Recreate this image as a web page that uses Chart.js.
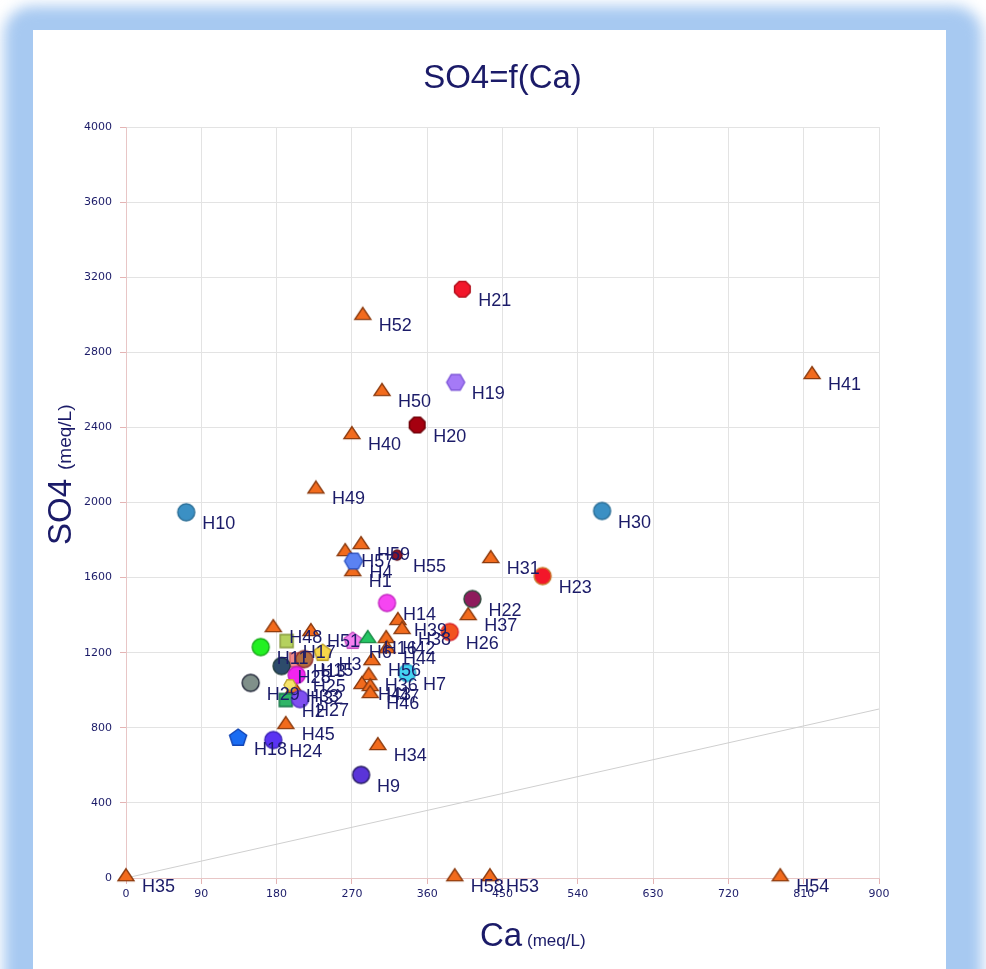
<!DOCTYPE html>
<html>
<head>
<meta charset="utf-8">
<title>SO4=f(Ca)</title>
<script src="https://cdn.jsdelivr.net/npm/chart.js@4.4.1/dist/chart.umd.min.js"></script>
<style>
  html, body { margin: 0; padding: 0; background: #fff; overflow: hidden; }
  #glow { position: absolute; left: 4px; top: 6px; width: 978px; height: 1010px; background: #a7c9f1; border-radius: 28px; filter: blur(7px); }
  #panel { position: absolute; left: 33px; top: 30px; width: 913px; height: 990px; background: #fff; }
  #chart { position: absolute; left: 0; top: 0; }
</style>
</head>
<body>
<div id="glow"></div>
<div id="panel"></div>
<canvas id="chart" width="986" height="969"></canvas>
<script>
// sample ids, Ca and SO4 (meq/L)
const names = ['H35', 'H58', 'H53', 'H54', 'H41', 'H52', 'H50', 'H40', 'H49', 'H59',
  'H57', 'H1', 'H31', 'H37', 'H39', 'H38', 'H48', 'H51', 'H42', 'H44',
  'H56', 'H36', 'H43', 'H47', 'H46', 'H32', 'H45', 'H34',
  'H21', 'H19', 'H20', 'H10', 'H30', 'H23', 'H22', 'H26', 'H14', 'H4',
  'H55', 'H6', 'H16', 'H17', 'H11', 'H3', 'H13', 'H15', 'H28', 'H25',
  'H29', 'H33', 'H2', 'H27', 'H18', 'H24', 'H9', 'H7'];
const ca = [0, 393, 435, 782, 820, 283, 306, 270, 227, 281,
  262, 271, 436, 409, 325, 330, 176, 221, 311, 312,
  294, 290, 282, 292, 292, 201, 191, 301,
  402, 394, 348, 72, 569, 498, 414, 387, 312, 272,
  324, 271, 289, 192, 161, 235, 204, 213, 186, 204,
  149, 196, 191, 208, 134, 176, 281, 336];
const so4 = [15, 15, 15, 15, 2690, 3005, 2600, 2370, 2080, 1784,
  1747, 1640, 1710, 1406, 1380, 1332, 1342, 1321, 1284, 1230,
  1166, 1087, 1039, 1028, 991, 1017, 826, 714,
  3136, 2640, 2413, 1948, 1955, 1608, 1486, 1310, 1465, 1688,
  1720, 1262, 1284, 1262, 1230, 1198, 1161, 1166, 1129, 1081,
  1039, 1028, 948, 953, 746, 735, 549, 1092];

// y = x reference line
const refCa = [0, 900];
const refSo4 = [0, 900];

// axis ticks
const xTicks = [0, 90, 180, 270, 360, 450, 540, 630, 720, 810, 900];
const yTicks = [0, 400, 800, 1200, 1600, 2000, 2400, 2800, 3200, 3600, 4000];

// marker look per sample: [shape, fill, stroke, size]
const TRI = ['tri', '#f26b1d', '#8b3a0e', 8];
const looks = [TRI, TRI, TRI, TRI, TRI, TRI, TRI, TRI, TRI, TRI,
  TRI, TRI, TRI, TRI, TRI, TRI, TRI, TRI, TRI, TRI,
  TRI, TRI, TRI, TRI, TRI, TRI, TRI, TRI,
  ['oct', '#f2172b', '#b0101c', 8.5],
  ['hex', '#a57af7', '#7d55d8', 9],
  ['oct', '#a5000f', '#6a0008', 8.5],
  ['circle', '#3b90c4', '#2b6e96', 8.5],
  ['circle', '#3b90c4', '#2b6e96', 8.5],
  ['circle', '#f3172a', '#c7782a', 8.5],
  ['circle', '#8e1b5c', '#2f4a3c', 8.5],
  ['circle', '#f2531f', '#d6232a', 8.5],
  ['circle', '#f645f2', '#c227c0', 8.5],
  ['hex', '#5b82f2', '#2f55c4', 9],
  ['circle', '#8a1428', '#5a0a18', 5],
  ['pent', '#f57ff0', '#c552c2', 9],
  ['tri', '#25c463', '#168a44', 8],
  ['square', '#b5d15e', '#889a3c', 6.5],
  ['circle', '#22f022', '#18a818', 8.5],
  ['pent', '#f6d64a', '#b89a26', 9],
  ['square', '#f28a8a', '#c86060', 7],
  ['circle', '#b36e40', '#8c2a2a', 8.5],
  ['circle', '#2d4b6b', '#1e3a3a', 8.5],
  ['circle', '#f224f0', '#c018c0', 8.5],
  ['circle', '#80908a', '#23283a', 8.5],
  ['hex', '#f6e36a', '#c0a83a', 6],
  ['square', '#2fb566', '#147346', 6.5],
  ['circle', '#7f4ff0', '#5230c4', 8.5],
  ['pent', '#1a6cf2', '#1245b4', 9],
  ['circle', '#5a34f2', '#3a22b4', 8.5],
  ['circle', '#5a34d8', '#24195e', 8.5],
  ['circle', '#45d3f2', '#1fa0c4', 8.5]];

const navy = '#1b1b68';
const sans = '"Liberation Sans", Arial, sans-serif';

// small canvas used as a point style
function marker([shape, fill, stroke, r]) {
  const size = Math.ceil(r * 2 + 4);
  const cv = document.createElement('canvas');
  cv.width = cv.height = size;
  const g = cv.getContext('2d');
  const c = size / 2;
  g.beginPath();
  if (shape === 'circle') {
    g.arc(c, c, r, 0, Math.PI * 2);
  } else if (shape === 'square') {
    g.rect(c - r, c - r, r * 2, r * 2);
  } else if (shape === 'tri') {
    g.moveTo(c, c - r * 0.8);
    g.lineTo(c + r, c + r * 0.7);
    g.lineTo(c - r, c + r * 0.7);
    g.closePath();
  } else {
    const n = { pent: 5, hex: 6, oct: 8 }[shape];
    const start = shape === 'pent' ? -Math.PI / 2 : shape === 'hex' ? 0 : Math.PI / 8;
    for (let k = 0; k < n; k++) {
      const a = start + k * 2 * Math.PI / n;
      g.lineTo(c + r * Math.cos(a), c + r * Math.sin(a));
    }
    g.closePath();
  }
  g.fillStyle = fill;
  g.fill();
  g.lineWidth = 1.4;
  g.strokeStyle = stroke;
  g.stroke();
  return cv;
}

// sample names next to points, plus titles
const annotate = {
  id: 'annotate',
  afterDatasetsDraw(chart) {
    const c = chart.ctx;
    const pts = chart.getDatasetMeta(1).data;
    c.save();
    c.font = '18px ' + sans;
    c.fillStyle = navy;
    c.textBaseline = 'middle';
    pts.forEach((p, i) => c.fillText(names[i], p.x + 16, p.y + 12));
    c.restore();
  },
  afterDraw(chart) {
    const c = chart.ctx;
    const a = chart.chartArea;
    c.save();
    c.fillStyle = navy;
    c.textBaseline = 'alphabetic';
    c.textAlign = 'center';
    c.font = '33px ' + sans;
    c.fillText('SO4=f(Ca)', (a.left + a.right) / 2, 88);

    c.textAlign = 'left';
    c.font = '33px ' + sans;
    c.fillText('Ca', 480, 946);
    c.font = '17px ' + sans;
    c.fillText('(meq/L)', 527, 946);

    c.translate(71, 545);
    c.rotate(-Math.PI / 2);
    c.font = '33px ' + sans;
    c.fillText('SO4', 0, 0);
    c.font = '19px ' + sans;
    c.fillText('(meq/L)', 75, 0);
    c.restore();
  }
};

const tickFont = { family: '"DejaVu Sans", sans-serif', size: 11 };
const plain = v => String(v);

new Chart(document.getElementById('chart').getContext('2d'), {
  type: 'scatter',
  data: {
    datasets: [
      {
        type: 'line',
        data: refCa.map((x, i) => ({ x: x, y: refSo4[i] })),
        borderColor: '#cfcfcf',
        borderWidth: 1,
        pointRadius: 0,
        order: 2
      },
      {
        data: ca.map((x, i) => ({ x: x, y: so4[i] })),
        pointStyle: looks.map(marker),
        pointRadius: 8,
        clip: false,
        order: 1
      }
    ]
  },
  options: {
    responsive: false,
    animation: false,
    layout: { padding: { left: 0, top: 127, right: 107, bottom: 0 } },
    plugins: {
      legend: { display: false },
      tooltip: { enabled: false },
      title: { display: false }
    },
    scales: {
      x: {
        type: 'linear',
        min: xTicks[0],
        max: xTicks[xTicks.length - 1],
        afterBuildTicks: s => { s.ticks = xTicks.map(v => ({ value: v })); },
        ticks: { color: navy, font: tickFont, padding: 4, maxRotation: 0, autoSkip: false, callback: plain },
        grid: { color: '#e3e3e3', tickColor: '#e4b4b4', tickLength: 6 },
        border: { color: '#e8c6c6' },
        afterFit: s => { s.height = 91; }
      },
      y: {
        type: 'linear',
        min: yTicks[0],
        max: yTicks[yTicks.length - 1],
        afterBuildTicks: s => { s.ticks = yTicks.map(v => ({ value: v })); },
        ticks: { color: navy, font: tickFont, padding: 8, autoSkip: false, callback: plain },
        grid: { color: '#e3e3e3', tickColor: '#e4b4b4', tickLength: 6 },
        border: { color: '#e8c6c6' },
        afterFit: s => { s.width = 126; }
      }
    }
  },
  plugins: [annotate]
});
</script>
</body>
</html>
